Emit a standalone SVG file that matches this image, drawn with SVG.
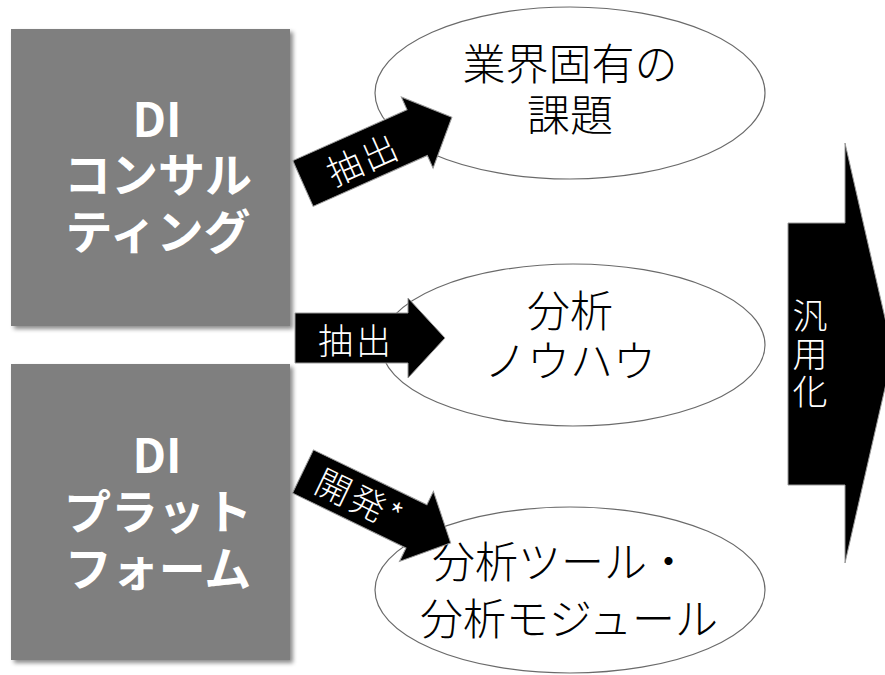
<svg xmlns="http://www.w3.org/2000/svg" width="885" height="675" viewBox="0 0 885 675">
<style>
.box{fill:#7f7f7f}
.bt{font-family:"Noto Sans CJK JP","Noto Sans",sans-serif;font-weight:bold;font-size:47px;fill:#fff;text-anchor:middle}
.ell{fill:#fff;stroke:#6a6a6a;stroke-width:1.2}
.et{font-family:"Noto Sans CJK JP","Noto Sans",sans-serif;font-weight:300;font-size:43px;fill:#000;text-anchor:middle}
.arr{fill:#000;stroke:#9a9a9a;stroke-width:1}
.at{font-family:"Noto Sans CJK JP","Noto Sans",sans-serif;font-weight:300;font-size:35px;fill:#fff;text-anchor:middle;dominant-baseline:central;letter-spacing:3px}
.vt{font-family:"Noto Sans CJK JP","Noto Sans",sans-serif;font-weight:300;font-size:35px;fill:#fff;text-anchor:middle;writing-mode:vertical-rl;letter-spacing:3px}
</style>
<defs>
<filter id="sh" x="-10%" y="-10%" width="125%" height="125%">
<feDropShadow dx="3" dy="3" stdDeviation="2" flood-color="#000" flood-opacity="0.45"/>
</filter>
</defs>
<rect width="885" height="675" fill="#fff"/>
<g id="consulting">
<rect class="box" x="11" y="29" width="279" height="297" filter="url(#sh)"/>
<text class="bt"><tspan x="157" y="137">DI</tspan><tspan x="158" y="192">コンサル</tspan><tspan x="158" y="249">ティング</tspan></text>
</g>
<g id="platform">
<rect class="box" x="11" y="364" width="279" height="296" filter="url(#sh)"/>
<text class="bt"><tspan x="157" y="473">DI</tspan><tspan x="158" y="529">プラット</tspan><tspan x="158" y="586">フォーム</tspan></text>
</g>
<g id="issues">
<ellipse class="ell" cx="570" cy="93" rx="195" ry="86"/>
<text class="et"><tspan x="570" y="80">業界固有の</tspan><tspan x="570" y="131">課題</tspan></text>
</g>
<g id="knowhow">
<ellipse class="ell" cx="573" cy="345" rx="192" ry="81"/>
<text class="et"><tspan x="570" y="327">分析</tspan><tspan x="570" y="377">ノウハウ</tspan></text>
</g>
<g id="tools">
<ellipse class="ell" cx="570" cy="590" rx="195" ry="83"/>
<text class="et"><tspan x="561" y="578">分析ツール・</tspan><tspan x="569" y="635">分析モジュール</tspan></text>
</g>
<g id="connectors">
<g transform="translate(303,183.5) rotate(-24)">
<path class="arr" d="M0,-25 L125,-25 L125,-39 L163,0 L125,39 L125,25 L0,25 Z"/>
<text class="at" x="65" y="0">抽出</text>
</g>
<g transform="translate(295,338)">
<path class="arr" d="M0,-25 L113,-25 L113,-40 L150,0 L113,40 L113,25 L0,25 Z"/>
<text class="at" x="61" y="0">抽出</text>
</g>
<g transform="translate(303,471.5) rotate(25.8)">
<path class="arr" d="M0,-24 L126,-24 L126,-39 L164,0 L126,39 L126,24 L0,24 Z"/>
<text class="at" x="64" y="-2">開発*</text>
</g>
<g id="generalize">
<path class="arr" d="M788,223 L845,223 L845,143 L893,353 L845,563 L845,485 L788,485 Z"/>
<text class="vt" x="810" y="355">汎用化</text>
</g>
</g>
</svg>
